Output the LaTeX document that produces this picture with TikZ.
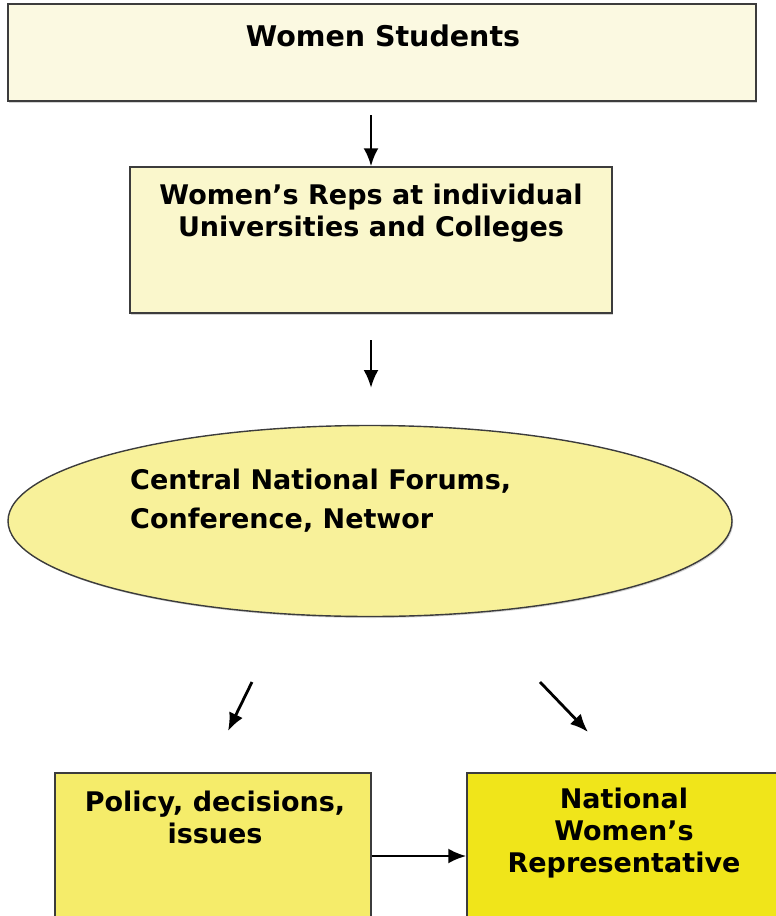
\documentclass[tikz,border=0pt]{standalone}
\usepackage{fontspec}
\setmainfont{DejaVu Sans}
\usepackage{xcolor}
\usetikzlibrary{shapes.geometric,arrows.meta,positioning,shadows}

\definecolor{creamA}{RGB}{251,249,225}
\definecolor{creamB}{RGB}{250,247,204}
\definecolor{paleY}{RGB}{248,241,154}
\definecolor{midY}{RGB}{245,236,106}
\definecolor{deepY}{RGB}{240,229,26}
\definecolor{edge}{RGB}{60,60,60}

\begin{document}
\begin{tikzpicture}[x=1pt, y=-1pt,
    box/.style={draw=edge, line width=1.4pt, inner sep=0pt,
      drop shadow={shadow xshift=1.2pt, shadow yshift=-1.5pt, opacity=0.35}},
    lbl/.style={font=\fontsize{27}{32}\selectfont\bfseries, align=center, inner sep=0pt},
    flow/.style={-{Latex[length=18pt,width=15pt]}, line width=2.8pt}]
  \clip (0,0) rectangle (776,916);

  % Women students
  \node[box, fill=creamA, minimum width=748pt, minimum height=97pt] (students) at (382,52.5) {};
  \node[lbl, font=\fontsize{28.5}{32}\selectfont\bfseries] (studentstxt) at (383,36) {Women Students};

  % Reps at universities
  \node[box, fill=creamB, minimum width=482pt, minimum height=146pt] (reps) at (371,240) {};
  \node[lbl] (repstxt) at (371,213) {Women’s Reps at individual\\Universities and Colleges};

  % Central forums
  \node[box, ellipse, fill=paleY, minimum width=724pt, minimum height=191pt] (forums) at (370,521) {};
  \node[lbl, align=left, anchor=west, font=\fontsize{27}{39}\selectfont\bfseries] (forumstxt) at (130,500.5) {Central National Forums,\\Conference, Networ};

  % Outcomes
  \node[box, fill=midY, minimum width=316pt, minimum height=166pt] (policy) at (213,856) {};
  \node[lbl] (policytxt) at (215,817.5) {Policy, decisions,\\issues};
  \node[box, fill=deepY, minimum width=323pt, minimum height=166pt] (national) at (628.5,856) {};
  \node[lbl] (nationaltxt) at (624,833) {National\\Women’s\\Representative};

  % Arrows
  \coordinate (down1) at (371,115);
  \coordinate (down2s) at (371,340);
  \coordinate (down2e) at (371,388);
  \coordinate (leftS) at (252,682);
  \coordinate (leftE) at (228,731);
  \coordinate (rightS) at (540,682);
  \coordinate (rightE) at (588,732);
  \draw[flow] (down1) -- (reps.north);
  \draw[flow] (down2s) -- (down2e);
  \draw[flow] (leftS) -- (leftE);
  \draw[flow] (rightS) -- (rightE);
  \draw[flow] (policy.east) -- (national.west);
\end{tikzpicture}
\end{document}
